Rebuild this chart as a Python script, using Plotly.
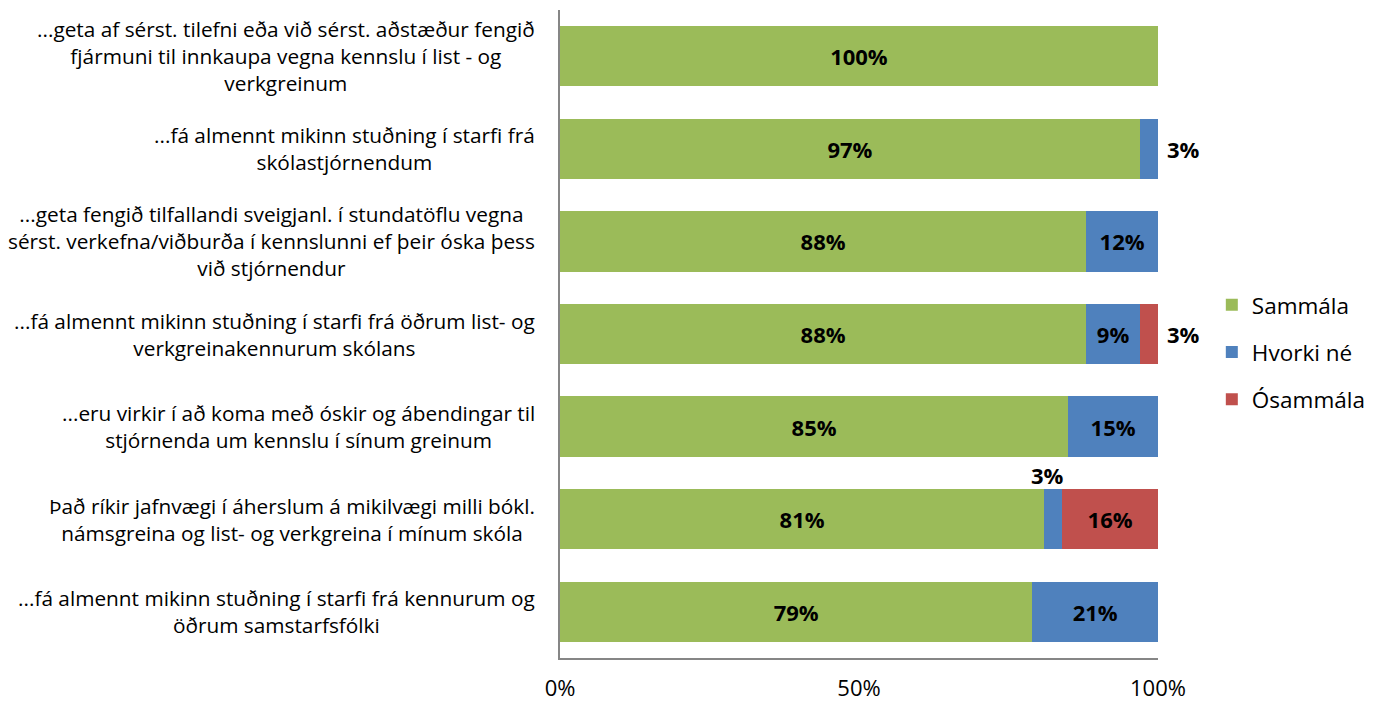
import plotly.graph_objects as go

categories = [
    "...geta af sérst. tilefni eða við sérst. aðstæður fengið<br>fjármuni til innkaupa vegna kennslu í list - og<br>verkgreinum",
    "...fá almennt mikinn stuðning í starfi frá<br>skólastjórnendum",
    "...geta fengið tilfallandi sveigjanl. í stundatöflu vegna<br>sérst. verkefna/viðburða í kennslunni ef þeir óska þess<br>við stjórnendur",
    "...fá almennt mikinn stuðning í starfi frá öðrum list- og<br>verkgreinakennurum skólans",
    "...eru virkir í að koma með óskir og ábendingar til<br>stjórnenda um kennslu í sínum greinum",
    "Það ríkir jafnvægi í áherslum á mikilvægi milli bókl.<br>námsgreina og list- og verkgreina í mínum skóla",
    "...fá almennt mikinn stuðning í starfi frá kennurum og<br>öðrum samstarfsfólki",
]
sammala = [100, 97, 88, 88, 85, 81, 79]
hvorki = [0, 3, 12, 9, 15, 3, 21]
osammala = [0, 0, 0, 3, 0, 16, 0]

series_names = ["Sammála", "Hvorki né", "Ósammála"]
colors = ["#9BBB59", "#4F81BD", "#C0504D"]
series = [sammala, hvorki, osammala]
tick_vals = [0, 50, 100]
tick_text = ["0%", "50%", "100%"]

FONT = "Open Sans"
LBL = 22
fig = go.Figure()
ids = list(range(len(categories)))

annotations = []
for si, (name, vals, col) in enumerate(zip(series_names, series, colors)):
    texts = [f"<b>{v}%</b>" if v >= 5 else "" for v in vals]
    fig.add_trace(go.Bar(
        name=name, y=ids, x=vals, orientation="h",
        marker=dict(color=col, line=dict(width=0)),
        text=texts, textposition="inside", insidetextanchor="middle",
        textfont=dict(family=FONT, size=LBL, color="black"),
        constraintext="none", width=0.65, legendgroup=name,
        hoverinfo="x+name",
    ))

# small-segment labels placed outside the bar
for i in ids:
    start = 0
    for si, vals in enumerate(series):
        v = vals[i]
        if 0 < v < 5:
            end = start + v
            if end >= 100:
                annotations.append(dict(x=end, y=i, xref="x", yref="y", text=f"<b>{v}%</b>",
                                        showarrow=False, xanchor="left", xshift=7,
                                        font=dict(family=FONT, size=LBL, color="black")))
            else:
                annotations.append(dict(x=start + v / 2, y=i - 0.325, xref="x", yref="y",
                                        text=f"<b>{v}%</b>", showarrow=False, yanchor="bottom",
                                        xshift=-6, yshift=-3,
                                        font=dict(family=FONT, size=LBL, color="black")))
        start += v

for i, c in enumerate(categories):
    annotations.append(dict(x=0, y=i, xref="paper", yref="y", text=c, showarrow=False,
                            xanchor="right", align="center", xshift=-23,
                            font=dict(family=FONT, size=20.8, color="black")))

fig.update_layout(
    barmode="stack",
    width=1382, height=704,
    margin=dict(l=560, r=224, t=10, b=46, autoexpand=False),
    paper_bgcolor="white", plot_bgcolor="white",
    font=dict(family=FONT, size=19, color="black"),
    xaxis=dict(range=[0, 100], tickvals=tick_vals, ticktext=tick_text, automargin=False,
               showgrid=False, zeroline=False, showline=True, linecolor="#868686", linewidth=1.5,
               ticks="outside", ticklen=10, tickcolor="rgba(0,0,0,0)",
               tickfont=dict(family=FONT, size=22)),
    yaxis=dict(range=[len(categories) - 0.5, -0.5], showticklabels=False, showgrid=False,
               automargin=False,
               zeroline=False, showline=True, linecolor="#868686", linewidth=1.5, ticks=""),
    legend=dict(x=1.09, y=0.472, xanchor="left", yanchor="middle",
                font=dict(family=FONT, size=22.5), tracegroupgap=15, traceorder="grouped",
                itemsizing="constant"),
    annotations=annotations,
    showlegend=True,
)

fig.write_html("out.html", post_script="document.body.style.margin='0px';",
               config={"displayModeBar": False})
